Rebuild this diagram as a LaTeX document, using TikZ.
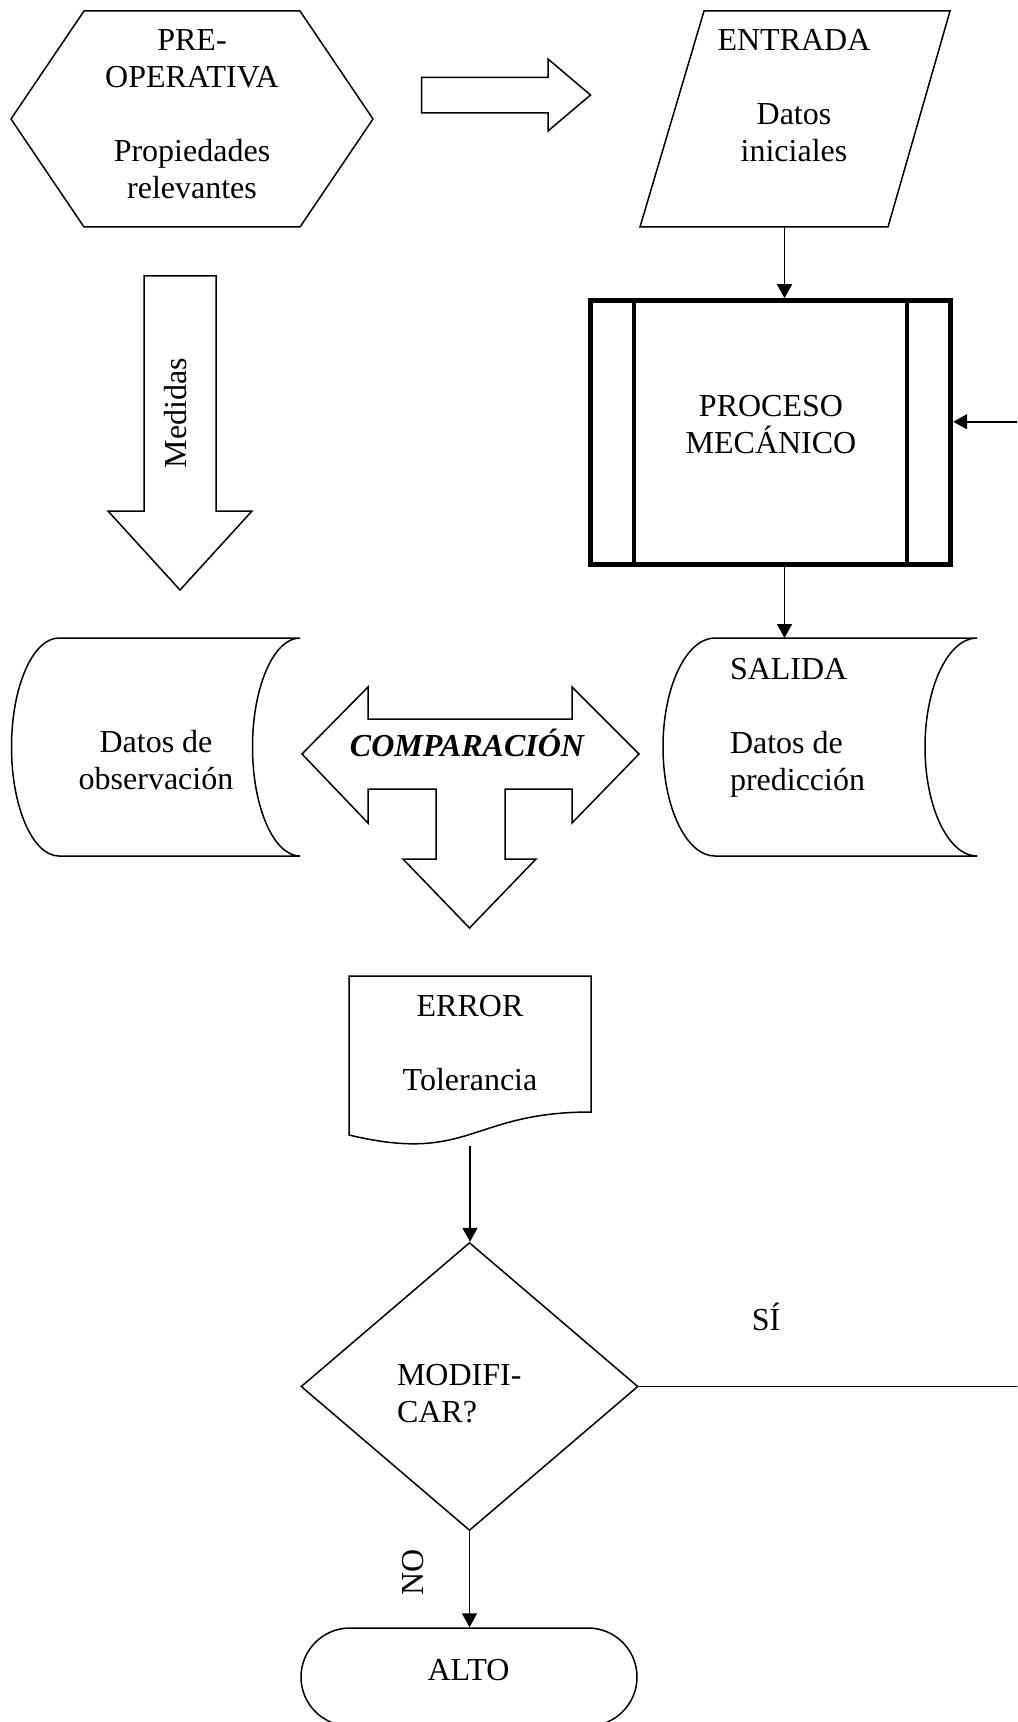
\documentclass[tikz,border=0pt]{standalone}
\usepackage{fontspec}
\setmainfont{Liberation Serif}
\usetikzlibrary{arrows.meta,shapes.geometric,shapes.misc,calc}

\begin{document}
\begin{tikzpicture}[x=0.5pt,y=-0.5pt,
  outline/.style={draw=black, line width=0.75pt, line join=miter},
  txt/.style={inner sep=0pt, outer sep=0pt, font=\fontsize{16}{18.5}\selectfont},
  ctxt/.style={txt, align=center},
  ltxt/.style={txt, align=left},
  conn/.style={draw=black, line width=0.8pt, -{Triangle[length=7pt,width=7.5pt]}},
  procbox/.style={draw=black, line width=2.5pt, minimum width=180pt, minimum height=131.65pt, inner sep=0pt},
  procbar/.style={draw=black, line width=2.2pt},
  decision/.style={draw=black, line width=0.75pt, diamond, minimum width=168.5pt, minimum height=144pt, inner sep=0pt},
  terminal/.style={draw=black, line width=0.75pt, rounded rectangle, minimum width=168pt, minimum height=49pt, inner sep=0pt},
]
\useasboundingbox (0,0) rectangle (1017,1722);
\fill[white] (0,0) rectangle (1017,1722);
\clip (0,0) rectangle (1017,1722);

% PRE-OPERATIVA hexagon
\draw[outline] (11,119) -- (84,11) -- (300,11) -- (373,119) -- (300,227) -- (84,227) -- cycle;
\node[ctxt] (pre) at (192,114) {PRE-\\OPERATIVA\\[18.5pt]Propiedades\\relevantes};

% block arrow to the right
\draw[outline] (421.5,77.5) -- (548,77.5) -- (548,59) -- (590.5,95) -- (548,131) -- (548,113) -- (421.5,113) -- cycle;

% ENTRADA parallelogram
\draw[outline] (704,11) -- (950,11) -- (888,227) -- (640,227) -- cycle;
\node[ctxt] (ent) at (794,96) {ENTRADA\\[18.5pt]Datos\\iniciales};
\coordinate (entS) at (784.5,227);

% PROCESO MECANICO
\node[procbox] (proc) at (770.7,432.35) {};
\draw[procbar] ([xshift=22.9pt]proc.north west) -- ([xshift=22.9pt]proc.south west);
\draw[procbar] ([xshift=-23.1pt]proc.north east) -- ([xshift=-23.1pt]proc.south east);
\node[ctxt] (proct) at (771,424.6) {PROCESO\\MECÁNICO};

% Medidas block arrow
\draw[outline] (144,276) -- (216,276) -- (216,511) -- (252,511) -- (180,590) -- (108,511) -- (144,511) -- cycle;
\node[txt, rotate=90, anchor=base] (med) at (186.5,413) {Medidas};

% Datos de observacion (stored data)
\draw[outline] (59,638) -- (300,638)
  .. controls (273.8,638) and (252.5,686.8) .. (252.5,747)
  .. controls (252.5,807.2) and (273.8,856) .. (300,856)
  -- (59,856)
  .. controls (32.8,856) and (11.5,807.2) .. (11.5,747)
  .. controls (11.5,686.8) and (32.8,638) .. (59,638) -- cycle;
\node[ctxt] (obs) at (156,760) {Datos de\\observación};

% SALIDA (stored data)
\draw[outline] (715,638) -- (977,638)
  .. controls (948.3,638) and (925,686.8) .. (925,747)
  .. controls (925,807.2) and (948.3,856) .. (977,856)
  -- (715,856)
  .. controls (686.3,856) and (663,807.2) .. (663,747)
  .. controls (663,686.8) and (686.3,638) .. (715,638) -- cycle;
\node[ltxt, anchor=west] (sal) at (730,727.5) {SALIDA\\[18.5pt]Datos de\\predicción};
\coordinate (salT) at (784.5,638);

% COMPARACION three-way block arrow
\draw[outline] (302,754) -- (368,687) -- (368,719) -- (572,719) -- (572,687) -- (639,754)
  -- (572,823) -- (572,789) -- (505,789) -- (505,859) -- (536,859) -- (469.5,928)
  -- (403,859) -- (436,859) -- (436,789) -- (368,789) -- (368,823) -- cycle;
\node[txt, anchor=base, font=\fontsize{16}{18.5}\selectfont\bfseries\itshape] (cmp) at (467,756.7) {COMPARACIÓN};

% ERROR document
\draw[outline] (349,976) -- (591,976) -- (591,1112)
  .. controls (470,1112) and (470,1164) .. (349,1135) -- cycle;
\node[ctxt] (err) at (470,1043.1) {ERROR\\[18.5pt]Tolerancia};
\coordinate (errB) at (470,1146);

% decision
\node[decision] (dia) at (469.5,1386.5) {};
\node[ltxt, anchor=west] (modt) at (397,1394) {MODIFI-\\CAR?};
\node[txt, anchor=base] (si) at (766,1330) {SÍ};

% ALTO terminal
\node[terminal] (alto) at (469,1677) {};
\node[txt, anchor=base] (altot) at (468.5,1680) {ALTO};

% connectors
\draw[conn] (entS) -- (entS |- proc.north);
\draw[conn] (entS |- proc.south) -- (salT);
\draw[conn] (errB) -- (errB |- dia.north);
\draw[conn] (dia.south) -- (dia.south |- alto.north);
\node[txt, rotate=90, anchor=base] (no) at (423,1572) {NO};
\coordinate (fbR) at (1030,1386.5);
\draw[conn] (dia.east) -- (fbR) |- ([yshift=5.3pt]proc.east);
\end{tikzpicture}
\end{document}
